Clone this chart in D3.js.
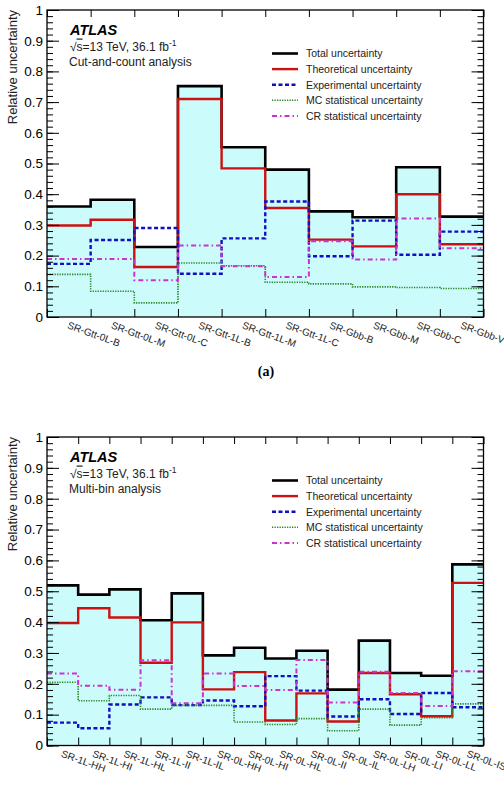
<!DOCTYPE html>
<html>
<head>
<meta charset="utf-8">
<script src="https://cdn.jsdelivr.net/npm/d3@7/dist/d3.min.js"></script>
<style>
  body { margin: 0; background: #fff; }
  svg { display: block; font-family: "Liberation Sans", Arial, Helvetica, sans-serif; }
</style>
</head>
<body>
<svg id="chart" width="504" height="787"></svg>
<script>
// ---- data: (a) cut-and-count
var ccBins = ["SR-Gtt-0L-B","SR-Gtt-0L-M","SR-Gtt-0L-C","SR-Gtt-1L-B","SR-Gtt-1L-M",
	"SR-Gtt-1L-C","SR-Gbb-B","SR-Gbb-M","SR-Gbb-C","SR-Gbb-VC"];
var ccTotal  = [0.360, 0.382, 0.228, 0.752, 0.553, 0.480, 0.344, 0.325, 0.488, 0.327];
var ccTheory = [0.298, 0.317, 0.163, 0.710, 0.484, 0.355, 0.252, 0.230, 0.400, 0.237];
var ccExp    = [0.173, 0.251, 0.290, 0.141, 0.256, 0.376, 0.198, 0.314, 0.203, 0.278];
var ccMC     = [0.139, 0.084, 0.046, 0.176, 0.167, 0.113, 0.108, 0.098, 0.096, 0.093];
var ccCR     = [0.189, 0.189, 0.120, 0.233, 0.165, 0.130, 0.247, 0.187, 0.321, 0.224];

// ---- data: multi-bin
var mbBins = ["SR-1L-HH","SR-1L-HI","SR-1L-HL","SR-1L-II","SR-1L-IL","SR-0L-HH","SR-0L-HI",
	"SR-0L-HL","SR-0L-II","SR-0L-IL","SR-0L-LH","SR-0L-LI","SR-0L-LL","SR-0L-IS"];
var mbTotal  = [0.519, 0.489, 0.506, 0.406, 0.493, 0.292, 0.317, 0.282, 0.307, 0.181, 0.340, 0.235, 0.226, 0.587];
var mbTheory = [0.397, 0.445, 0.415, 0.268, 0.399, 0.182, 0.238, 0.081, 0.169, 0.078, 0.235, 0.166, 0.095, 0.527];
var mbExp    = [0.074, 0.056, 0.133, 0.156, 0.131, 0.146, 0.127, 0.225, 0.178, 0.094, 0.150, 0.102, 0.170, 0.124];
var mbMC     = [0.205, 0.145, 0.162, 0.118, 0.130, 0.130, 0.076, 0.068, 0.087, 0.048, 0.118, 0.066, 0.090, 0.135];
var mbCR     = [0.233, 0.194, 0.181, 0.276, 0.137, 0.233, 0.193, 0.180, 0.277, 0.139, 0.239, 0.170, 0.128, 0.241];

var legendNames = ["Total uncertainty","Theoretical uncertainty","Experimental uncertainty",
	"MC statistical uncertainty","CR statistical uncertainty"];
var yTicks = [0,0.1,0.2,0.3,0.4,0.5,0.6,0.7,0.8,0.9,1];

// line styles, same order as legend
var styles = [
	{color:"#000000", width:2.6, dash:null},
	{color:"#cc1111", width:2.4, dash:null},
	{color:"#1010c0", width:2.4, dash:"4,2.5"},
	{color:"#2a8a2a", width:1.6, dash:"1.3,1.2"},
	{color:"#cc33cc", width:2.0, dash:"5,3,1.5,3"}
];
var fill_color = "#cbfbfb";

var svg = d3.select("#chart");

function fmt(d){
	if (d===0) return "0";
	if (d===1) return "1";
	return d3.format(".1f")(d);
}

function drawPanel(cfg){
	var x0 = 47, x1 = 483.5;
	var n = cfg.bins.length;
	var x = d3.scaleLinear().domain([0,n]).range([x0,x1]);
	var y = d3.scaleLinear().domain([0,1]).range([cfg.bottom,cfg.top]);

	var g = svg.append("g");

	// fill under total
	var area = d3.area().curve(d3.curveStepAfter)
		.x(function(d){return x(d.i);})
		.y0(y(0)).y1(function(d){return y(d.v);});
	function pts(vals){
		var p = vals.map(function(v,i){return {i:i,v:v};});
		p.push({i:n, v:vals[n-1]});
		return p;
	}
	g.append("path").attr("d", area(pts(cfg.series[0]))).attr("fill", fill_color);

	// histogram outlines
	var line = d3.line().curve(d3.curveStepAfter)
		.x(function(d){return x(d.i);})
		.y(function(d){return y(d.v);});
	cfg.series.forEach(function(vals,k){
		var st = styles[k];
		g.append("path").attr("d", line(pts(vals)))
			.attr("fill","none")
			.attr("stroke",st.color)
			.attr("stroke-width",st.width)
			.attr("stroke-dasharray",st.dash);
	});

	// y axes (ticks inward, left and right)
	var minor = d3.range(0,1.0001,0.02);
	var left = g.append("g").attr("transform","translate("+x0+",0)")
		.call(d3.axisLeft(y).tickValues(yTicks).tickSize(-12).tickPadding(4).tickFormat(fmt));
	g.append("g").attr("transform","translate("+x0+",0)")
		.call(d3.axisLeft(y).tickValues(minor).tickSize(-6).tickFormat(""));
	g.append("g").attr("transform","translate("+x1+",0)")
		.call(d3.axisRight(y).tickValues(yTicks).tickSize(-12).tickFormat(""));
	g.append("g").attr("transform","translate("+x1+",0)")
		.call(d3.axisRight(y).tickValues(minor).tickSize(-6).tickFormat(""));
	// x ticks at bin edges, bottom and top
	var edges = d3.range(0,n+1);
	g.append("g").attr("transform","translate(0,"+cfg.bottom+")")
		.call(d3.axisBottom(x).tickValues(edges).tickSize(-8).tickFormat(""));
	g.append("g").attr("transform","translate(0,"+cfg.top+")")
		.call(d3.axisTop(x).tickValues(edges).tickSize(-7).tickFormat(""));
	g.selectAll(".domain").remove();
	g.selectAll(".tick line").attr("stroke","#000").attr("stroke-width",1);
	left.selectAll("text").attr("font-size",13.5).attr("fill","#000")
		.attr("font-family","Liberation Sans, Arial, sans-serif");

	// frame
	g.append("rect").attr("x",x0).attr("y",cfg.top)
		.attr("width",x1-x0).attr("height",cfg.bottom-cfg.top)
		.attr("fill","none").attr("stroke","#000").attr("stroke-width",1.3);

	// bin labels, rotated
	cfg.bins.forEach(function(lab,i){
		var cx = x(i+0.5) - 2, cy = cfg.bottom + 11;
		g.append("text").text(lab)
			.attr("transform","translate("+cx+","+cy+") rotate(20)")
			.attr("font-size",10).attr("fill","#222");
	});

	// y title
	g.append("text").text("Relative uncertainty")
		.attr("transform","translate(17,"+(cfg.top)+") rotate(-90)")
		.attr("text-anchor","end").attr("font-size",13).attr("fill","#222");

	// ATLAS label block
	g.append("text").text("ATLAS")
		.attr("x",70).attr("y",cfg.top+25)
		.attr("font-size",14.5).attr("font-weight","bold").attr("font-style","italic");
	var t = g.append("text").attr("x",70).attr("y",cfg.top+40.5).attr("font-size",12).attr("fill","#222");
	t.append("tspan").text("√");
	t.append("tspan").text("s").style("text-decoration","overline");
	t.append("tspan").text("=13 TeV, 36.1 fb");
	t.append("tspan").text("-1").attr("font-size",8.5).attr("dy",-5);
	g.append("text").text(cfg.subtitle)
		.attr("x",69).attr("y",cfg.top+56).attr("font-size",12).attr("fill","#222");

	// legend
	legendNames.forEach(function(name,k){
		var ly = cfg.top + 43.5 + k*15.6;
		var st = styles[k];
		g.append("line").attr("x1",272).attr("x2",298).attr("y1",ly).attr("y2",ly)
			.attr("stroke",st.color).attr("stroke-width",st.width)
			.attr("stroke-dasharray",st.dash);
		g.append("text").text(name).attr("x",306).attr("y",ly+3.8)
			.attr("font-size",10.5).attr("fill","#222");
	});
}

drawPanel({top:10, bottom:317, bins:ccBins, subtitle:"Cut-and-count analysis",
	series:[ccTotal, ccTheory, ccExp, ccMC, ccCR]});
drawPanel({top:437, bottom:745.5, bins:mbBins, subtitle:"Multi-bin analysis",
	series:[mbTotal, mbTheory, mbExp, mbMC, mbCR]});

svg.append("text").text("(a)").attr("x",266).attr("y",376)
	.attr("text-anchor","middle").attr("font-size",14).attr("font-weight","bold")
	.attr("font-family","Liberation Serif, serif");
</script>
</body>
</html>
